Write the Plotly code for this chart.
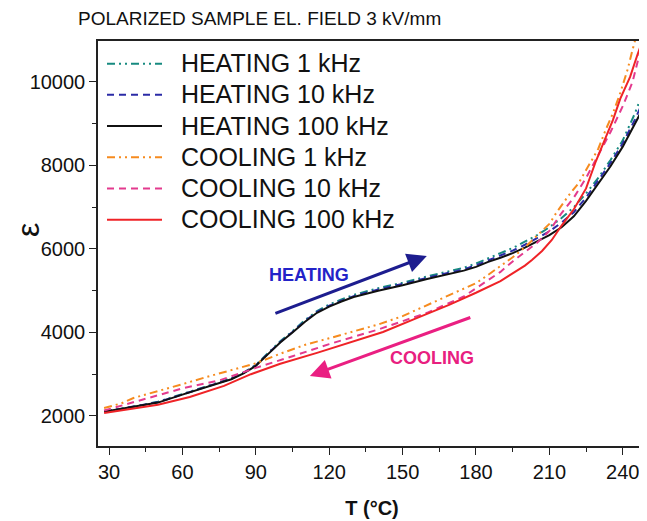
import plotly.graph_objects as go

# ---------------- data ----------------
T_heat = [28, 35, 40, 50, 60, 70, 80, 85, 90, 95, 100, 105, 110, 115, 120, 125, 130,
          140, 150, 160, 170, 175, 180, 185, 190, 195, 200, 205, 210, 215, 220, 225,
          230, 235, 240, 245, 249.5]
heat_1k = [2110, 2180, 2220, 2340, 2520, 2710, 2900, 3040, 3220, 3500, 3790, 4030, 4290,
           4510, 4670, 4790, 4900, 5060, 5190, 5340, 5480, 5550, 5650, 5780, 5900, 6020,
           6170, 6330, 6520, 6740, 7000, 7330, 7700, 8130, 8600, 9250, 9950]
heat_10k = [2100, 2170, 2215, 2330, 2515, 2705, 2890, 3030, 3210, 3490, 3770, 4010, 4270,
            4490, 4640, 4760, 4870, 5030, 5160, 5310, 5450, 5510, 5610, 5730, 5840, 5960,
            6100, 6250, 6420, 6630, 6880, 7230, 7630, 8060, 8530, 9100, 9700]
heat_100k = [2100, 2170, 2210, 2320, 2510, 2700, 2880, 3020, 3200, 3480, 3760, 4000, 4250,
             4470, 4620, 4740, 4850, 5000, 5130, 5280, 5420, 5480, 5570, 5690, 5790, 5900,
             6030, 6170, 6330, 6520, 6780, 7150, 7550, 7980, 8450, 9000, 9500]

T_cool_1k = [28, 35, 40, 50, 55, 60, 70, 80, 90, 100, 110, 120, 130, 140, 150, 160, 170,
             180, 185, 190, 195, 200, 205, 210, 213, 218, 222, 226, 230, 233, 236, 239,
             242, 244, 246]
cool_1k = [2190, 2300, 2430, 2590, 2670, 2760, 2935, 3100, 3260, 3490, 3700, 3860, 4020,
           4190, 4390, 4650, 4920, 5180, 5380, 5580, 5800, 6040, 6330, 6600, 6880, 7290,
           7580, 8000, 8400, 8850, 9250, 9740, 10300, 10770, 11200]

T_cool_10k = [28, 35, 45, 60, 75, 90, 105, 120, 140, 160, 175, 180, 185, 190, 195, 200,
              205, 210, 215, 220, 225, 230, 235, 240, 244, 247, 249]
cool_10k = [2130, 2250, 2420, 2660, 2850, 3150, 3430, 3720, 4070, 4470, 4860, 5060, 5250,
            5450, 5700, 5920, 6150, 6430, 6860, 7230, 7700, 8250, 8800, 9420, 10000,
            10700, 11100]

T_cool_100k = [28, 35, 50, 63, 77, 88, 100, 115, 128, 142, 156, 169, 180, 183, 190, 194,
               200, 203, 207, 211, 215, 220, 225, 229, 233, 236, 239, 243, 246, 248.5]
cool_100k = [2070, 2130, 2270, 2455, 2720, 3000, 3250, 3510, 3750, 4010, 4350, 4660, 4950,
             5030, 5230, 5380, 5600, 5740, 5950, 6215, 6560, 6950, 7450, 8100, 8650, 9090,
             9600, 10120, 10650, 11050]

x_ticks = [30, 60, 90, 120, 150, 180, 210, 240]
y_ticks = [2000, 4000, 6000, 8000, 10000]
y_tick_text = ["2000", "4000", "6000", "8000", "10000"]

series = [
    ("HEATING 1 kHz", T_heat, heat_1k, "#178a80", "8px,4px,2px,4px,2px,4px"),
    ("HEATING 10 kHz", T_heat, heat_10k, "#2b2ba6", "7px,5px"),
    ("HEATING 100 kHz", T_heat, heat_100k, "#111111", "solid"),
    ("COOLING 1 kHz", T_cool_1k, cool_1k, "#f68b1f", "8px,4px,2px,4px,2px,4px"),
    ("COOLING 10 kHz", T_cool_10k, cool_10k, "#e33a8e", "7px,5px"),
    ("COOLING 100 kHz", T_cool_100k, cool_100k, "#ef2327", "solid"),
]

FONT = "Liberation Sans, Arial, sans-serif"

# the page body adds an 8px offset; the figure is sized to fit the window with it
W, H = 639, 513
L, R, TOP, B = 90, 1, 33, 75
PW, PH = W - L - R, H - TOP - B

fig = go.Figure()
for name, xs, ys, col, dash in series:
    label = "<span style='font-size:25px'>&nbsp;&nbsp;" + name + "</span>"
    fig.add_trace(go.Scatter(x=xs, y=ys, name=label, mode="lines",
                             line=dict(color=col, width=2, dash=dash)))

fig.update_layout(
    width=W, height=H,
    margin=dict(l=L, r=R, t=TOP, b=B, autoexpand=False),
    paper_bgcolor="white", plot_bgcolor="white",
    font=dict(family=FONT, color="#111111"),
    title=dict(text="POLARIZED SAMPLE EL. FIELD 3 kV/mm", x=70 / W, xanchor="left",
               xref="container", y=1 - 10 / H, yanchor="middle", yref="container",
               automargin=False, pad=dict(l=0, r=0, t=0, b=0),
               font=dict(size=19, color="#111111")),
    showlegend=True,
    legend=dict(x=4 / PW, y=0.995, xanchor="left", yanchor="top", bgcolor="rgba(0,0,0,0)",
                font=dict(size=21.7, color="#111111"), itemwidth=55,
                tracegroupgap=0),
    xaxis=dict(range=[25.5, 249.5], tickmode="array", tickvals=x_ticks,
               ticks="outside", ticklen=7, tickwidth=1.3, tickcolor="#222",
               showline=True, linecolor="#222", linewidth=1.5, mirror=True,
               showgrid=False, zeroline=False, automargin=False,
               tickfont=dict(size=20, family=FONT),
               minor=dict(dtick=15, tick0=15, ticks="outside", ticklen=4, tickcolor="#222",
                          showgrid=False),
               title=dict(text="<b>T (°C)</b>", font=dict(size=20, family=FONT),
                          standoff=19)),
    yaxis=dict(range=[1280, 10980], tickmode="array", tickvals=y_ticks,
               ticktext=y_tick_text,
               ticks="outside", ticklen=7, tickwidth=1.3, tickcolor="#222",
               showline=True, linecolor="#222", linewidth=1.5, mirror=True,
               showgrid=False, zeroline=False, automargin=False,
               tickfont=dict(size=20, family=FONT),
               minor=dict(dtick=1000, tick0=1000, ticks="outside", ticklen=4,
                          tickcolor="#222", showgrid=False)),
)

# y-axis symbol
fig.add_annotation(x=(20 - L) / PW, y=(TOP + PH - 222) / PH, xref="paper", yref="paper",
                   xanchor="center", yanchor="middle",
                   text="ε", textangle=-90, showarrow=False,
                   font=dict(size=32, family=FONT, color="#111111"))

# arrows and labels
fig.add_annotation(x=159.9, y=5832, ax=97.4, ay=4443, xref="x", yref="y",
                   axref="x", ayref="y", showarrow=True, arrowhead=2, arrowsize=1.3,
                   arrowwidth=3, arrowcolor="#1d1d8f", text="")
fig.add_annotation(x=112.1, y=2958, ax=178.3, ay=4371, xref="x", yref="y",
                   axref="x", ayref="y", showarrow=True, arrowhead=2, arrowsize=1.3,
                   arrowwidth=3, arrowcolor="#ea1f82", text="")
fig.add_annotation(x=111.7, y=5377, xref="x", yref="y", text="<b>HEATING</b>",
                   showarrow=False, font=dict(size=18, color="#2323c8", family=FONT))
fig.add_annotation(x=161.9, y=3389, xref="x", yref="y", text="<b>COOLING</b>",
                   showarrow=False, font=dict(size=18, color="#e8207f", family=FONT))

fig.write_html("out.html")
